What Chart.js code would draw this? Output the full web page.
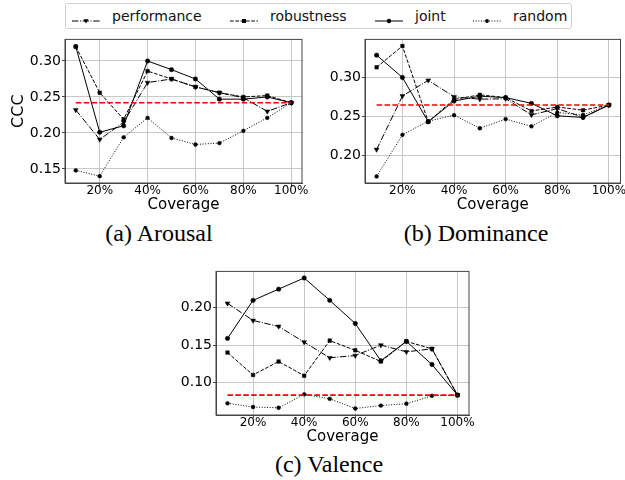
<!DOCTYPE html>
<html>
<head>
<meta charset="utf-8">
<script src="https://cdn.jsdelivr.net/npm/chart.js@4.4.1/dist/chart.umd.min.js"></script>
<style>
  body { margin: 0; background: #fff; width: 625px; height: 480px; position: relative; overflow: hidden; font-family: 'DejaVu Sans', sans-serif; }
  .panel { position: absolute; }
  .caption { position: absolute; font-family: 'Liberation Serif', serif; font-size: 24px; color: #000; white-space: nowrap; transform: translateX(-50%); }
  #legend { position: absolute; left: 65px; top: 3px; width: 505px; height: 24px; border: 1px solid #cfcfcf; border-radius: 3px; }
  .item { position: absolute; top: 0; height: 24px; font-size: 14px; line-height: 24px; color: #111; }
  .item svg { position: absolute; top: 7px; left: 0; }
  .item span { position: absolute; white-space: nowrap; }
</style>
</head>
<body>
<div id="legend"></div>
<div class="panel" style="left:0px;top:30px"><canvas id="arousal" width="310" height="185"></canvas></div>
<div class="panel" style="left:310px;top:30px"><canvas id="dominance" width="315" height="185"></canvas></div>
<div class="panel" style="left:160px;top:262px"><canvas id="valence" width="315" height="185"></canvas></div>
<div class="caption" style="left:159px;top:220px">(a) Arousal</div>
<div class="caption" style="left:476px;top:220px">(b) Dominance</div>
<div class="caption" style="left:329px;top:451px">(c) Valence</div>
<script>
// x positions (coverage %) and tick labels
const coverage = [10, 20, 30, 40, 50, 60, 70, 80, 90, 100];
const xTicks = [20, 40, 60, 80, 100];

// Arousal
const arousalPerformance = [0.232, 0.191, 0.215, 0.270, 0.275, 0.264, 0.256, 0.249, 0.230, 0.242];
const arousalRobustness = [0.320, 0.256, 0.219, 0.286, 0.275, 0.264, 0.256, 0.250, 0.252, 0.242];
const arousalJoint = [0.320, 0.201, 0.210, 0.300, 0.288, 0.275, 0.247, 0.247, 0.250, 0.242];
const arousalRandom = [0.148, 0.140, 0.194, 0.221, 0.193, 0.184, 0.186, 0.203, 0.221, 0.242];
const arousalBaseline = 0.242;
const arousalTicks = [0.15, 0.20, 0.25, 0.30];

// Dominance
const dominancePerformance = [0.208, 0.276, 0.296, 0.275, 0.272, 0.2725, 0.252, 0.260, 0.249, 0.2645];
const dominanceRobustness = [0.3125, 0.3396, 0.2433, 0.2717, 0.2775, 0.274, 0.257, 0.262, 0.258, 0.2645];
const dominanceJoint = [0.328, 0.2996, 0.2433, 0.2696, 0.2758, 0.274, 0.2667, 0.2508, 0.2488, 0.2645];
const dominanceRandom = [0.1737, 0.2267, 0.244, 0.2517, 0.235, 0.2467, 0.2375, 0.255, 0.252, 0.2645];
const dominanceBaseline = 0.2645;
const dominanceTicks = [0.20, 0.25, 0.30];

// Valence
const valencePerformance = [0.206, 0.183, 0.175, 0.154, 0.133, 0.136, 0.150, 0.141, 0.145, 0.083];
const valenceRobustness = [0.140, 0.110, 0.128, 0.109, 0.156, 0.143, 0.128, 0.155, 0.145, 0.083];
const valenceJoint = [0.159, 0.210, 0.225, 0.240, 0.210, 0.179, 0.129, 0.155, 0.124, 0.083];
const valenceRandom = [0.072, 0.067, 0.066, 0.084, 0.078, 0.065, 0.069, 0.0715, 0.082, 0.083];
const valenceBaseline = 0.083;
const valenceTicks = [0.10, 0.15, 0.20];

const styles = {
    performance: { dash: [6.4, 1.6, 1, 1.6], point: 'triangle', rot: 180, r: 2.8 },
    robustness: { dash: [3.7, 1.6], point: 'rect', rot: 0, r: 2.5 },
    joint: { dash: [], point: 'circle', rot: 0, r: 2.2 },
    random: { dash: [1, 1.65], point: 'circle', rot: 0, r: 1.9 }
};

const frame = {
    id: 'frame',
    afterDraw(chart) {
        const { ctx, chartArea: a } = chart;
        ctx.save();
        ctx.strokeStyle = '#444';
        ctx.lineWidth = 1;
        ctx.strokeRect(a.left, a.top, a.right - a.left, a.bottom - a.top);
        ctx.restore();
    }
};

function series(name, values) {
    const s = styles[name];
    return {
        label: name,
        data: coverage.map((c, i) => ({ x: c, y: values[i] })),
        borderColor: '#000',
        backgroundColor: '#000',
        borderWidth: 1,
        borderDash: s.dash,
        pointStyle: s.point,
        pointRotation: s.rot,
        pointRadius: s.r,
        pointBorderWidth: 0.5,
        pointBackgroundColor: '#000',
        pointBorderColor: '#000',
        tension: 0
    };
}

function makePanel(id, perf, rob, joint, rand, base, yMin, yMax, yTicks, yWidth, padRight, padTop, yTitle) {
    const datasets = [
        {
            label: 'baseline',
            data: [{ x: coverage[0], y: base }, { x: coverage[coverage.length - 1], y: base }],
            borderColor: '#ff0000',
            borderWidth: 1.6,
            borderDash: [5.5, 2.4],
            pointRadius: 0
        },
        series('performance', perf),
        series('robustness', rob),
        series('joint', joint),
        series('random', rand)
    ];
    new Chart(document.getElementById(id), {
        type: 'line',
        data: { datasets: datasets },
        options: {
            responsive: false,
            animation: false,
            devicePixelRatio: 1,
            layout: { padding: { top: padTop, right: padRight, left: 0, bottom: 0 } },
            plugins: { legend: { display: false }, tooltip: { enabled: false } },
            scales: {
                x: {
                    type: 'linear',
                    min: 5.5,
                    max: 104.5,
                    afterBuildTicks: s => { s.ticks = xTicks.map(v => ({ value: v })); },
                    afterFit: s => { s.height = 32; },
                    ticks: {
                        callback: v => v + '%',
                        font: { family: 'DejaVu Sans', size: 12 },
                        color: '#000',
                        padding: -2,
                        maxRotation: 0,
                        autoSkip: false
                    },
                    grid: { color: '#c8c8c8', lineWidth: 1, tickColor: '#444', tickLength: 3 },
                    border: { display: true, color: '#444' },
                    title: {
                        display: true,
                        text: 'Coverage',
                        color: '#000',
                        font: { family: 'DejaVu Sans', size: 15 },
                        padding: { top: 0, bottom: 0.5 }
                    }
                },
                y: {
                    min: yMin,
                    max: yMax,
                    afterBuildTicks: s => { s.ticks = yTicks.map(v => ({ value: v })); },
                    afterFit: s => { s.width = yWidth; },
                    ticks: {
                        callback: v => v.toFixed(2),
                        font: { family: 'DejaVu Sans', size: 14 },
                        color: '#000',
                        padding: 1
                    },
                    grid: { color: '#c8c8c8', lineWidth: 1, tickColor: '#444', tickLength: 3 },
                    border: { display: true, color: '#444' },
                    title: {
                        display: !!yTitle,
                        text: yTitle || '',
                        color: '#000',
                        font: { family: 'DejaVu Sans', size: 16 },
                        padding: { top: 9, bottom: 0 }
                    }
                }
            }
        },
        plugins: [frame]
    });
}

makePanel('arousal', arousalPerformance, arousalRobustness, arousalJoint, arousalRandom, arousalBaseline,
    0.1305, 0.330, arousalTicks, 65, 8, 7, 'CCC');
makePanel('dominance', dominancePerformance, dominanceRobustness, dominanceJoint, dominanceRandom, dominanceBaseline,
    0.1654, 0.348, dominanceTicks, 55, 4, 7, null);
makePanel('valence', valencePerformance, valenceRobustness, valenceJoint, valenceRandom, valenceBaseline,
    0.0563, 0.2488, valenceTicks, 56, 6, 6, null);

// legend with line/marker samples
const legendItems = [
    { name: 'performance', left: 6 },
    { name: 'robustness', left: 164 },
    { name: 'joint', left: 309 },
    { name: 'random', left: 407 }
];
const legend = document.getElementById('legend');
legendItems.forEach(it => {
    const s = styles[it.name];
    const div = document.createElement('div');
    div.className = 'item';
    div.style.left = it.left + 'px';
    let marker;
    if (s.point === 'triangle') marker = '<polygon points="11.4,8.2 16.6,8.2 14,12.4" fill="#000"/>';
    else if (s.point === 'rect') marker = '<rect x="12" y="8" width="4" height="4" fill="#000"/>';
    else marker = '<circle cx="14" cy="10" r="' + s.r + '" fill="#000"/>';
    const dash = s.dash.length ? s.dash.join(',') : 'none';
    div.innerHTML = '<svg width="28" height="20"><line x1="0" y1="10" x2="28" y2="10" stroke="#000" stroke-width="1" stroke-dasharray="' + dash + '"/>' + marker + '</svg>' +
        '<span style="left:40px">' + it.name + '</span>';
    legend.appendChild(div);
});
</script>
</body>
</html>
